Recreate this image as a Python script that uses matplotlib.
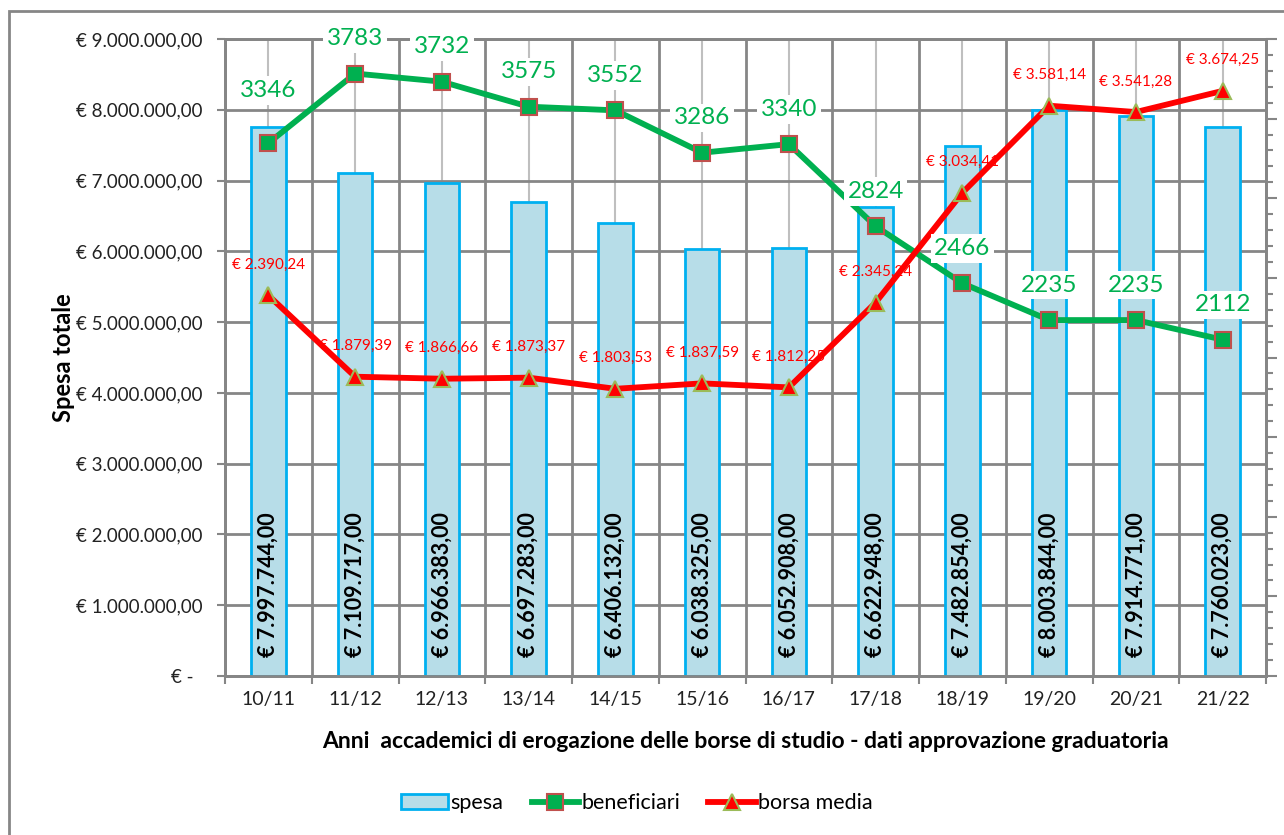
import matplotlib.pyplot as plt
import numpy as np
from matplotlib.patches import Patch, Rectangle
from matplotlib.lines import Line2D

plt.rcParams['font.family'] = ['Lato', 'DejaVu Sans']

# -------------------------
# Dati
# -------------------------
anni = ['10/11', '11/12', '12/13', '13/14', '14/15', '15/16',
        '16/17', '17/18', '18/19', '19/20', '20/21', '21/22']
# spesa totale (etichette delle barre)
spesa = [7997744, 7109717, 6966383, 6697283, 6406132, 6038325,
         6052908, 6622948, 7482854, 8003844, 7914771, 7760023]
# altezza delle barre come appare nel grafico (10/11 disegnata piu' bassa)
spesa_barre = [7760000, 7109717, 6966383, 6697283, 6406132, 6038325,
               6052908, 6622948, 7482854, 8003844, 7914771, 7760023]
beneficiari = [3346, 3783, 3732, 3575, 3552, 3286, 3340, 2824, 2466, 2235, 2235, 2112]
borsa_media = [2390.24, 1879.39, 1866.66, 1873.37, 1803.53, 1837.59,
               1812.25, 2345.24, 3034.41, 3581.14, 3541.28, 3674.25]


def euro(v, dec=2):
    s = f"{v:,.{dec}f}"
    s = s.replace(',', 'X').replace('.', ',').replace('X', '.')
    return '€ ' + s


GRID = '#868686'
x = np.arange(len(anni))

fig = plt.figure(figsize=(12.84, 8.35), dpi=100)
ax = fig.add_axes([225 / 1284, 159 / 835, 1041 / 1284, 637 / 835])

# -------------------------
# Barre spesa
# -------------------------
ax.bar(x, spesa_barre, width=0.4, color='#B7DDE8', edgecolor='#00B0F0',
       linewidth=2, zorder=3)
for i, v in enumerate(spesa):
    ax.annotate(euro(v), (i, 0), xytext=(0, 14), textcoords='offset points',
                rotation=90, ha='center', va='bottom', fontsize=15.5,
                fontweight='bold', color='black', zorder=5)

ax.set_xlim(-0.5, len(anni) - 0.5)
ax.set_ylim(0, 9e6)
yt = np.arange(0, 9e6 + 1, 1e6)
ax.set_yticks(yt)
ax.set_yticklabels(['€ -  '] + [euro(v) for v in yt[1:]])
ax.set_xticks(x)
ax.set_xticklabels(anni)
ax.set_xticks(np.arange(-0.5, len(anni), 1), minor=True)

# griglia
for y in yt:
    ax.axhline(y, color=GRID, lw=2, zorder=1)
for b in np.arange(-0.5, len(anni), 1):
    ax.axvline(b, color=GRID, lw=2, zorder=1)
for c in x:
    ax.axvline(c, color='#BFBFBF', lw=1.5, zorder=0.9)

for s in ax.spines.values():
    s.set_color(GRID)
    s.set_linewidth(2)

ax.tick_params(axis='y', direction='out', length=6, width=1.5, color=GRID,
               labelsize=13.5, pad=10, labelcolor='#222222')
ax.tick_params(axis='x', which='major', length=0, labelsize=14, pad=11,
               labelcolor='#222222')
ax.tick_params(axis='x', which='minor', direction='out', length=6, width=1.5, color=GRID)

ax.set_ylabel('Spesa totale', fontsize=17, fontweight='bold', labelpad=1)
ax.set_xlabel('Anni  accademici di erogazione delle borse di studio - dati approvazione graduatoria',
              fontsize=16.5, fontweight='bold', labelpad=16)

# -------------------------
# Linee su asse secondario
# -------------------------
ax2 = ax.twinx()
ax2.set_ylim(0, 4000)
ax2.set_yticks(np.arange(0, 4001, 500))
ax2.set_yticks(np.arange(0, 4001, 100), minor=True)
ax2.tick_params(axis='y', which='major', direction='out', length=8, width=1.5,
                color=GRID, labelright=False)
ax2.tick_params(axis='y', which='minor', direction='out', length=5, width=1.5,
                color=GRID)
for s in ax2.spines.values():
    s.set_color(GRID)
    s.set_linewidth(2)

ax2.plot(x, beneficiari, color='#00B050', lw=4.2, marker='s', ms=12,
         mfc='#00B050', mec='#C0504D', mew=1.5, zorder=4)
ax2.plot(x, borsa_media, color='#FF0000', lw=4.2, marker='^', ms=12,
         mfc='#FF0000', mec='#9BBB59', mew=1.5, zorder=5)

for i, v in enumerate(beneficiari):
    off = 38 if i == 0 else 25
    ax2.annotate(str(v), (i, v), xytext=(0, off), textcoords='offset points',
                 ha='center', va='center', fontsize=17.5, color='#00B050', zorder=10,
                 bbox=dict(boxstyle='square,pad=0.15', fc='white', ec='none'))
for i, v in enumerate(borsa_media):
    ax2.annotate(euro(v), (i, v), xytext=(0, 22), textcoords='offset points',
                 ha='center', va='center', fontsize=11, color='#FF0000', zorder=9)

# -------------------------
# Legenda e cornice
# -------------------------
handles = [
    Patch(facecolor='#B7DDE8', edgecolor='#00B0F0', linewidth=2, label='spesa'),
    Line2D([], [], color='#00B050', lw=4.2, marker='s', ms=12, mfc='#00B050',
           mec='#C0504D', mew=1.5, label='beneficiari'),
    Line2D([], [], color='#FF0000', lw=4.2, marker='^', ms=12, mfc='#FF0000',
           mec='#9BBB59', mew=1.5, label='borsa media'),
]
fig.legend(handles=handles, loc='center', bbox_to_anchor=(0.496, 0.038), ncol=3,
           frameon=False, fontsize=15.5, handlelength=2.2, handletextpad=0.12,
           columnspacing=1.3)

fig.add_artist(Rectangle((9 / 1284, -0.05), 1.1, 1.05 - 11 / 835,
                         transform=fig.transFigure, fill=False,
                         edgecolor=GRID, lw=2))

plt.savefig('out.png', dpi=100)
plt.close()
